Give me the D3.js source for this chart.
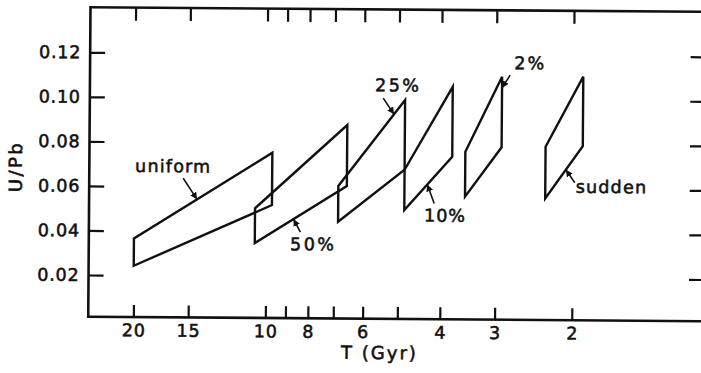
<!DOCTYPE html>
<html>
<head>
<meta charset="utf-8">
<script src="https://cdn.jsdelivr.net/npm/d3@7"></script>
<style>
  body { margin: 0; background: #fff; }
  svg { display: block; }
  text { font-family: "DejaVu Sans", sans-serif; fill: #111; stroke: #111; stroke-width: 0.55px; }
</style>
</head>
<body>
<svg id="chart" width="701" height="373"></svg>
<script>
// tick values
const tickT = [20, 15, 10, 9, 8, 7, 6, 5, 4, 3, 2];
const labelT = [20, 15, 10, 8, 6, 4, 3, 2];
const ticksUPb = [0.02, 0.04, 0.06, 0.08, 0.10, 0.12];

// one parallelogram per scenario: T at left / right side, U/Pb at the corners
// (10% shares its left side with the right side of 25%)
const scenarios = ["uniform", "50%", "25%", "10%", "2%", "sudden"];
const tLeft     = [20, 10.6, 6.85, 4.84, 3.52, 2.31];
const tRight    = [9.7, 6.55, 4.84, 3.77, 2.91, 1.90];
const lowLeft   = [0.0243, 0.0349, 0.0447, 0.0502, 0.0564, 0.0559];
const highLeft  = [0.0366, 0.0505, 0.0608, 0.0683, 0.0766, 0.0791];
const lowRight  = [0.0520, 0.0608, 0.0683, 0.0743, 0.0787, 0.0795];
const highRight = [0.0755, 0.0882, 0.0996, 0.1057, 0.1104, 0.1107];

// annotation: which edge the arrow touches, how far along it, arrow tail and label offsets (px)
const notes = [
  { edge: "upper", f: 0.456, tail: [-14, -21], text: [-24, -33], anchor: "middle", ls: 1.2 },
  { edge: "lower", f: 0.42,  tail: [7, 13],    text: [20, 25],   anchor: "middle", ls: 2.5 },
  { edge: "upper", f: 0.835, tail: [-11, -16], text: [4, -29],   anchor: "middle", ls: 2.5 },
  { edge: "lower", f: 0.48,  tail: [7, 19],    text: [18, 31],   anchor: "middle", ls: 1 },
  { edge: "right", f: 0.16,  tail: [8, -13],   text: [28, -25],  anchor: "middle", ls: 2 },
  { edge: "lower", f: 0.55,  tail: [9, 13],    text: [10, 17],   anchor: "start",  ls: 1.2 }
];

const svg = d3.select("#chart");
const g = svg.append("g").attr("transform", "rotate(0.42, 90.5, 7.3)");

const x = d3.scaleLog().domain([25.35, 1]).range([90.5, 706]);
const y = d3.scaleLinear().domain([0.02, 0.12]).range([275, 52.3]);
const frameTop = 7.3, frameBottom = 316.7, frameLeft = x(25.35), frameRight = x(1);

const fs = 17.5;

// frame
g.append("path")
  .attr("d", `M${frameLeft},${frameTop}H${frameRight}V${frameBottom}H${frameLeft}Z`)
  .attr("fill", "none").attr("stroke", "#111").attr("stroke-width", 2.6);

function styleAxis(sel) {
  sel.select(".domain").remove();
  sel.selectAll(".tick line").attr("stroke", "#111").attr("stroke-width", 2.2);
  sel.selectAll(".tick text").attr("font-size", fs).attr("fill", "#111")
    .attr("font-family", "DejaVu Sans").attr("letter-spacing", 0.8);
  sel.attr("font-family", null).attr("font-size", null);
}

g.append("g").attr("transform", `translate(0,${frameBottom})`)
  .call(d3.axisBottom(x).tickValues(tickT).tickSize(-12).tickPadding(7)
    .tickFormat(d => labelT.includes(d) ? d : ""))
  .call(styleAxis);

g.append("g").attr("transform", `translate(0,${frameTop})`)
  .call(d3.axisTop(x).tickValues(tickT).tickSize(-13).tickFormat(""))
  .call(styleAxis);

g.append("g").attr("transform", `translate(${frameLeft},0)`)
  .call(d3.axisLeft(y).tickValues(ticksUPb).tickSize(-15).tickPadding(9)
    .tickFormat(d3.format(".2f")))
  .call(styleAxis);

g.append("g").attr("transform", `translate(${frameRight},0)`)
  .call(d3.axisRight(y).tickValues(ticksUPb).tickSize(-15).tickFormat(""))
  .call(styleAxis);

// axis titles
g.append("text")
  .attr("x", 382).attr("y", 357)
  .attr("text-anchor", "middle").attr("font-size", 18)
  .attr("letter-spacing", 2)
  .text("T (Gyr)");

g.append("text")
  .attr("transform", "translate(23,167) rotate(-90)")
  .attr("text-anchor", "middle").attr("font-size", 18)
  .attr("letter-spacing", 2.5)
  .text("U/Pb");

// parallelograms
const shapes = scenarios.map((name, i) => ({
  name,
  pts: [
    [x(tLeft[i]), y(lowLeft[i])],
    [x(tLeft[i]), y(highLeft[i])],
    [x(tRight[i]), y(highRight[i])],
    [x(tRight[i]), y(lowRight[i])]
  ]
}));

g.selectAll("path.shape")
  .data(shapes)
  .enter().append("path")
  .attr("class", "shape")
  .attr("d", d => d3.line()(d.pts) + "Z")
  .attr("fill", "none")
  .attr("stroke", "#111")
  .attr("stroke-width", 2.4)
  .attr("stroke-linejoin", "miter");

// arrows + labels
svg.append("defs").append("marker")
  .attr("id", "head")
  .attr("viewBox", "0 0 10 10")
  .attr("refX", 10).attr("refY", 5)
  .attr("markerWidth", 7).attr("markerHeight", 7)
  .attr("markerUnits", "userSpaceOnUse")
  .attr("orient", "auto")
  .append("path").attr("d", "M0,0L10,5L0,10Z").attr("fill", "#111");

function tipOf(s, n) {
  const p = s.pts;
  let a, b;
  if (n.edge === "upper") { a = p[1]; b = p[2]; }
  else if (n.edge === "lower") { a = p[0]; b = p[3]; }
  else { a = p[2]; b = p[3]; }
  return [a[0] + (b[0] - a[0]) * n.f, a[1] + (b[1] - a[1]) * n.f];
}

shapes.forEach((s, i) => {
  const n = notes[i];
  const tip = tipOf(s, n);
  g.append("line")
    .attr("x1", tip[0] + n.tail[0]).attr("y1", tip[1] + n.tail[1])
    .attr("x2", tip[0]).attr("y2", tip[1])
    .attr("stroke", "#111").attr("stroke-width", 1.6)
    .attr("marker-end", "url(#head)");
  g.append("text")
    .attr("x", tip[0] + n.text[0]).attr("y", tip[1] + n.text[1])
    .attr("dy", "0.35em")
    .attr("text-anchor", n.anchor)
    .attr("font-size", fs)
    .attr("letter-spacing", n.ls)
    .text(s.name);
});
</script>
</body>
</html>
